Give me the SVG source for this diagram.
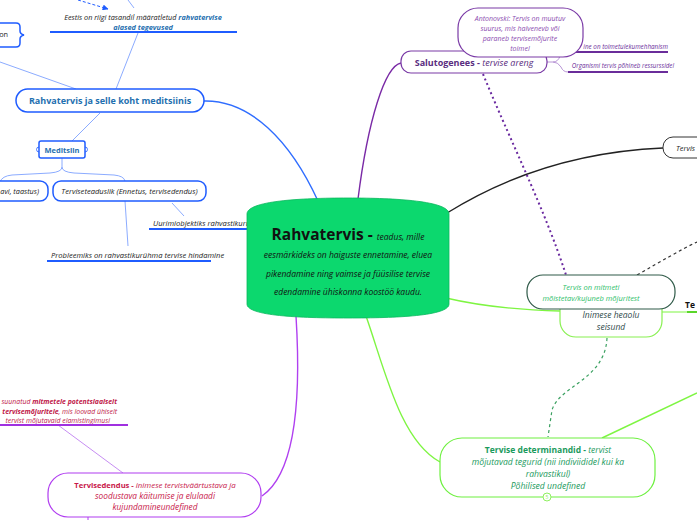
<svg xmlns="http://www.w3.org/2000/svg" width="697" height="520" viewBox="0 0 697 520">
<style>
text{font-family:"Open Sans","Noto Sans",sans-serif;}
.it{font-style:italic;}
.b{font-weight:bold;}
.bn{fill:#fff;stroke:#1f5cff;stroke-width:1.5;}
.bl{fill:none;stroke:#7ea2ff;stroke-width:0.9;}
.bu{stroke:#1f5cff;stroke-width:1.8;}
.pn{fill:#fff;stroke:#7a3aa6;stroke-width:1.2;}
.pu{stroke:#6a2d9a;stroke-width:1.8;}
.t7{font-size:7.3px;}
.s7{font-size:6.9px;}
</style>
<defs>
<marker id="ah" viewBox="0 0 10 10" refX="9" refY="5" markerWidth="6" markerHeight="6" orient="auto"><path d="M0,0L10,5L0,10z" fill="#1f5cff"/></marker>
</defs>
<rect width="697" height="520" fill="#fff"/>
<g id="connectors">
<path d="M204,101 C250,100 290,140 318,201" fill="none" stroke="#2f6dff" stroke-width="1.4"/>
<path d="M401,63 C385,66 368,120 358,199" fill="none" stroke="#7a2aa6" stroke-width="1.4"/>
<path d="M447,213 C500,180 570,152 663,148" fill="none" stroke="#222" stroke-width="1.4"/>
<path d="M446,298 C480,306 520,310 560,311" fill="none" stroke="#7ef542" stroke-width="1.4"/>
<path d="M366,316 C385,370 400,440 440,462" fill="none" stroke="#7ef542" stroke-width="1.4"/>
<path d="M296,316 C300,380 300,470 262,496" fill="none" stroke="#b040f0" stroke-width="1.4"/>
<path d="M602,438 L697,393" fill="none" stroke="#7ef542" stroke-width="1.4"/>
<path d="M662,312 L697,312" fill="none" stroke="#7ef542" stroke-width="1.2"/>
<path d="M687,312 L697,312" fill="none" stroke="#5ad62a" stroke-width="2"/>
<path d="M483,74 C510,140 545,210 566,275" fill="none" stroke="#6a2aa0" stroke-width="2" stroke-dasharray="2,3"/>
<path d="M637,275 C660,262 680,250 697,242" fill="none" stroke="#333" stroke-width="1.2" stroke-dasharray="3,3"/>
<path d="M607,338 C605,380 560,385 552,410 L548,437" fill="none" stroke="#3aa060" stroke-width="1.2" stroke-dasharray="3,3"/>
<path d="M116,89 L138,33" class="bl"/>
<path d="M128,0 L134,8" class="bl"/>
<path d="M0,62 L76,89" class="bl"/>
<path d="M100,113 L72,141" class="bl"/>
<path d="M62,158 L62,167 Q62,172 50,173 L12,175 Q2,176 0,182 M62,167 Q62,172 74,173 L114,175 Q124,176 125,181" class="bl"/>
<path d="M125,201 L128,246" class="bl"/>
<path d="M172,203 L184,216" class="bl"/>
<path d="M78,0 L108,9" fill="none" stroke="#1f5cff" stroke-width="1" stroke-dasharray="3,2" marker-end="url(#ah)"/>
<path d="M547,62 L553,62 Q558,62 560,56 L562,52 M553,62 Q558,62 561,67 Q563,72 568,72" fill="none" stroke="#b08ad0" stroke-width="0.9"/>
<path d="M58,425 L123,473" fill="none" stroke="#c080f0" stroke-width="0.9"/>
<path d="M88,517 L88,520" fill="none" stroke="#b040f0" stroke-width="1"/>
</g>
<g id="n-eestis">
<text x="143" y="20" text-anchor="middle" class="it t7" fill="#222">Eestis on riigi tasandil määratletud <tspan fill="#1f70b0" font-weight="bold">rahvatervise</tspan></text>
<text x="143" y="30" text-anchor="middle" class="it t7 b" fill="#1f70b0">alased tegevused</text>
<line x1="50" y1="32" x2="237" y2="32" class="bu"/>
</g>
<g id="n-on">
<path d="M-5,23 L16,23 Q20,23 20,27 L20,31 Q20,34 24,35 Q20,36 20,39 L20,43 Q20,47 16,47 L-5,47 Z" class="bn"/>
<text x="8" y="37" text-anchor="end" class="t7" fill="#222">on</text>
</g>
<g id="n-rahvkoht">
<rect x="16" y="89" width="188" height="23" rx="11.5" class="bn"/>
<text x="110" y="104" text-anchor="middle" class="b" font-size="9" fill="#1f70b0">Rahvatervis ja selle koht meditsiinis</text>
</g>
<g id="n-meditsiin">
<rect x="39" y="141" width="46" height="17" rx="2" class="bn"/>
<path d="M39,147 a2,2 0 0 0 0,5 M85,147 a2,2 0 0 1 0,5" fill="none" stroke="#1f5cff" stroke-width="0.8"/>
<text x="62" y="153" text-anchor="middle" class="b" font-size="7.5" fill="#1f70b0">Meditsiin</text>
</g>
<g id="n-ravi">
<rect x="-12" y="181" width="60" height="20" rx="8" class="bn"/>
<text x="39" y="194" text-anchor="end" class="it t7" fill="#222">avi, taastus)</text>
</g>
<g id="n-terviseteaduslik">
<rect x="53" y="181" width="153" height="20" rx="8" class="bn"/>
<text x="129.5" y="194" text-anchor="middle" class="it" font-size="7.6" fill="#222">Terviseteaduslik (Ennetus, tervisedendus)</text>
</g>
<g id="n-uurimi">
<text x="153" y="226" class="it" font-size="7.6" fill="#222">Uurimiobjektiks rahvastikurühm</text>
<line x1="149" y1="229" x2="250" y2="229" class="bu"/>
</g>
<g id="n-probleem">
<text x="51" y="258" class="it" font-size="7.6" fill="#222">Probleemiks on rahvastikurühma tervise hindamine</text>
<line x1="47" y1="261" x2="211" y2="261" class="bu"/>
</g>
<g id="n-central">
<path d="M247,214 C247,201 300,198 348,198 C396,198 449,201 449,214 L449,304 C449,316 396,318 348,318 C300,318 247,316 247,304 Z" fill="#0cd86e" stroke="#0bb85e" stroke-width="0.8"/>
<text x="348" y="240" text-anchor="middle" fill="#111"><tspan class="b" font-size="15.5">Rahvatervis - </tspan><tspan class="it" font-size="8.5">teadus, mille</tspan></text>
<text x="348" y="258" text-anchor="middle" class="it" font-size="8.5" fill="#111">eesmärkideks on haiguste ennetamine, eluea</text>
<text x="348" y="277" text-anchor="middle" class="it" font-size="8.5" fill="#111">pikendamine ning vaimse ja füüsilise tervise</text>
<text x="348" y="295" text-anchor="middle" class="it" font-size="8.5" fill="#111">edendamine ühiskonna koostöö kaudu.</text>
</g>
<g id="n-toimetulek">
<text x="668" y="49" text-anchor="end" class="it" font-size="6.3" fill="#6a2d9a">ine on toimetulekumehhanism</text>
<line x1="562" y1="52" x2="668" y2="52" class="pu"/>
</g>
<g id="n-ressurss">
<text x="674" y="68" text-anchor="end" class="it" font-size="6.2" fill="#6a2d9a">Organismi tervis põhineb ressurssidel</text>
<line x1="568" y1="72" x2="668" y2="72" class="pu"/>
</g>
<g id="n-salutogenees">
<rect x="401" y="51" width="146" height="22" rx="10" class="pn"/>
<text x="474" y="66" text-anchor="middle" font-size="9" fill="#5a2d80"><tspan class="b">Salutogenees - </tspan><tspan class="it">tervise areng</tspan></text>
</g>
<g id="n-antonovski">
<rect x="458" y="8" width="125" height="49" rx="20" class="pn"/>
<text x="520" y="21" text-anchor="middle" class="it" font-size="7" fill="#8a4ab0">Antonovski: Tervis on muutuv</text>
<text x="520" y="31" text-anchor="middle" class="it" font-size="7" fill="#8a4ab0">suurus, mis halvenevb või</text>
<text x="520" y="41" text-anchor="middle" class="it" font-size="7" fill="#8a4ab0">paraneb tervisemõjurite</text>
<text x="520" y="51" text-anchor="middle" class="it" font-size="7" fill="#8a4ab0">toimel</text>
</g>
<g id="n-tervis">
<rect x="663" y="137" width="60" height="21" rx="10" fill="#fff" stroke="#333" stroke-width="1"/>
<text x="676" y="151" class="it" font-size="7.5" fill="#222">Tervis</text>
</g>
<g id="n-heaolu">
<rect x="560" y="287" width="102" height="50" rx="16" fill="#fff" stroke="#88f050" stroke-width="1.2"/>
<text x="611" y="318" text-anchor="middle" class="it" font-size="8.5" fill="#2f4a4a">Inimese heaolu</text>
<text x="611" y="330" text-anchor="middle" class="it" font-size="8.5" fill="#2f4a4a">seisund</text>
</g>
<g id="n-mitmeti">
<rect x="527" y="275" width="148" height="34" rx="16" fill="#fff" stroke="#2f5a48" stroke-width="1.2"/>
<text x="591" y="290" text-anchor="middle" class="it" font-size="7.5" fill="#2ec06a">Tervis on mitmeti</text>
<text x="591" y="301" text-anchor="middle" class="it" font-size="7.5" fill="#2ec06a">mõistetav/kujuneb mõjuritest</text>
</g>
<g id="n-te">
<text x="685" y="308" class="b" font-size="8.5" fill="#111">Te</text>
</g>
<g id="n-determinandid">
<rect x="440" y="438" width="215" height="59" rx="22" fill="#fff" stroke="#6ef040" stroke-width="1.2"/>
<text x="548" y="453" text-anchor="middle" font-size="8.5" fill="#1a9a5c"><tspan class="b">Tervise determinandid - </tspan><tspan class="it">tervist</tspan></text>
<text x="548" y="465" text-anchor="middle" class="it" font-size="8.6" fill="#1a9a5c">mõjutavad tegurid (nii indiviididel kui ka</text>
<text x="548" y="477" text-anchor="middle" class="it" font-size="8.6" fill="#1a9a5c">rahvastikul)</text>
<text x="548" y="489" text-anchor="middle" class="it" font-size="8.6" fill="#1a9a5c">Põhilised undefined</text>
<circle cx="547" cy="497" r="4" fill="#fff" stroke="#8ef060" stroke-width="1"/>
<text x="547" y="499" text-anchor="middle" font-size="5" fill="#8ef060">5</text>
</g>
<g id="n-suunatud">
<text x="117" y="404" text-anchor="end" class="it s7" fill="#c01848">suunatud <tspan class="b">mitmetele potentsiaalselt</tspan></text>
<text x="117" y="414" text-anchor="end" class="it s7" fill="#c01848"><tspan class="b">tervisemõjuritele</tspan>, mis loovad ühiselt</text>
<text x="110" y="423" text-anchor="end" class="it s7" fill="#c01848">tervist mõjutavaid elamistingimusi</text>
<line x1="0" y1="425" x2="128" y2="425" stroke="#a030e0" stroke-width="1.8"/>
</g>
<g id="n-tervisedendus">
<rect x="48" y="473" width="213" height="44" rx="20" fill="#fff" stroke="#b03cf0" stroke-width="1.2"/>
<text x="155" y="488" text-anchor="middle" font-size="7.9" fill="#c8174a"><tspan class="b" font-size="7.6">Tervisedendus - </tspan><tspan class="it">inimese tervistväärtustava ja</tspan></text>
<text x="155" y="499" text-anchor="middle" class="it" font-size="8.3" fill="#c8174a">soodustava käitumise ja elulaadi</text>
<text x="155" y="510" text-anchor="middle" class="it" font-size="8.3" fill="#c8174a">kujundamineundefined</text>
</g>
</svg>
